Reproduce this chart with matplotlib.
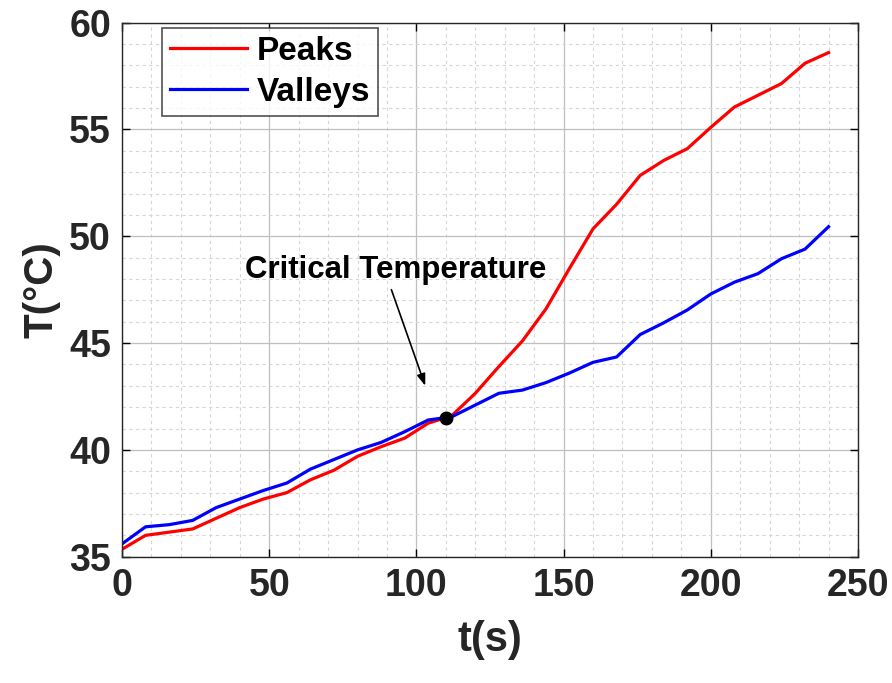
import matplotlib
matplotlib.use('Agg')
import matplotlib.pyplot as plt
import numpy as np

# time samples (s)
t = [0, 8, 16, 24, 32, 40, 48, 56, 64, 72, 80, 88, 96, 104, 112, 120,
     128, 136, 144, 152, 160, 168, 176, 184, 192, 200, 208, 216, 224, 232, 240]

peaks = [35.35, 36.0, 36.15, 36.3, 36.8, 37.3, 37.7, 38.0, 38.6, 39.05, 39.7,
         40.15, 40.55, 41.25, 41.6, 42.65, 43.9, 45.1, 46.6, 48.5, 50.35,
         51.5, 52.85, 53.55, 54.1, 55.1, 56.05, 56.6, 57.15, 58.1, 58.6]

valleys = [35.6, 36.4, 36.5, 36.7, 37.3, 37.7, 38.1, 38.45, 39.1, 39.55, 40.0,
           40.35, 40.85, 41.4, 41.55, 42.1, 42.65, 42.8, 43.15, 43.6, 44.1,
           44.35, 45.4, 45.95, 46.55, 47.3, 47.85, 48.25, 48.95, 49.4, 50.45]

crit_t = 110
crit_T = 41.5

plt.rcParams['font.family'] = 'Liberation Sans'
plt.rcParams['font.weight'] = 'bold'

fig = plt.figure(figsize=(8.92, 6.83), dpi=100)
ax = fig.add_axes([0.1368, 0.1849, 0.8251, 0.7819])

ax.plot(t, peaks, color='#ff0000', lw=2.3, label='Peaks')
ax.plot(t, valleys, color='#0000ff', lw=2.3, label='Valleys')
ax.plot([crit_t], [crit_T], 'o', color='black', ms=9)

# annotation
ax.text(92.8, 48.4, 'Critical Temperature', fontsize=22.5, fontweight='bold',
        ha='center', va='center')
ax.annotate('', xy=(103.0, 43.0), xytext=(91.5, 47.5),
            arrowprops=dict(arrowstyle='-|>,head_length=0.7,head_width=0.25',
                            color='black', lw=1.2, shrinkA=0, shrinkB=0))

ax.set_xlim(0, 250)
ax.set_ylim(35, 60)
ax.set_xticks(np.arange(0, 251, 50))
ax.set_yticks(np.arange(35, 61, 5))
ax.set_xticks(np.arange(0, 251, 10), minor=True)
ax.set_yticks(np.arange(35, 61, 1), minor=True)

ax.grid(which='major', color='#bfbfbf', linestyle='-', linewidth=0.9)
ax.grid(which='minor', color='#d6d6d6', linestyle=(0, (3, 3)), linewidth=0.8)
ax.set_axisbelow(True)

ax.tick_params(which='major', direction='in', length=6, width=1,
               top=True, right=True, labelsize=27, pad=8)
ax.tick_params(which='minor', length=0)
for lab in ax.get_xticklabels() + ax.get_yticklabels():
    lab.set_fontweight('bold')
    lab.set_color('#262626')
for sp in ax.spines.values():
    sp.set_color('#262626')
    sp.set_linewidth(1.0)

ax.set_xlabel('t(s)', fontsize=30, fontweight='bold', color='#262626', labelpad=12)
ax.set_ylabel('T(°C)', fontsize=29, fontweight='bold', color='#262626', labelpad=6)

leg = ax.legend(loc='upper left', bbox_to_anchor=(0.047, 1.0), fontsize=24,
                frameon=True, fancybox=False, handlelength=2.3,
                handletextpad=0.3, borderpad=0.25, labelspacing=0.3,
                borderaxespad=0.15)
leg.get_frame().set_edgecolor('#262626')
leg.get_frame().set_linewidth(1.2)
for txt in leg.get_texts():
    txt.set_fontweight('bold')

fig.savefig('out.png', dpi=100)
